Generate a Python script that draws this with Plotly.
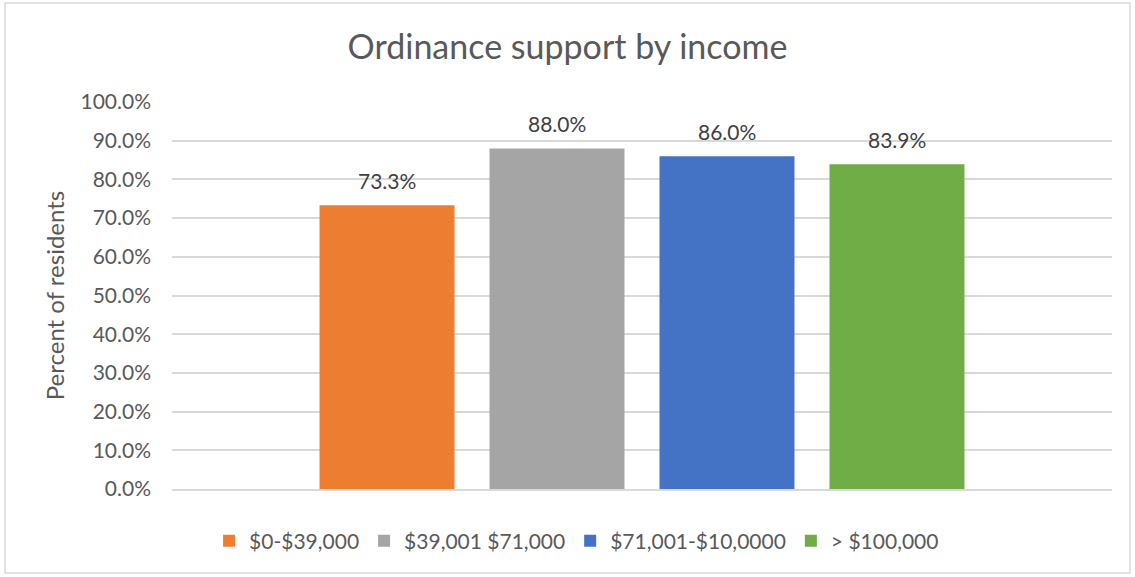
import plotly.graph_objects as go

# Share of residents supporting the ordinance, by household income band
income_groups = ["$0-$39,000", "$39,001 $71,000", "$71,001-$10,0000", "> $100,000"]
support_share = [0.733, 0.880, 0.860, 0.839]
bar_colors = ["#ED7D31", "#A5A5A5", "#4472C4", "#70AD47"]

y_ticks = [i / 10 for i in range(11)]

FONT = "Lato"
TEXT = "#595959"
GRID = "#D9D9D9"

fig = go.Figure()
for name, val, col in zip(income_groups, support_share, bar_colors):
    fig.add_trace(go.Bar(
        x=[name], y=[val], name=name,
        marker=dict(color=col, line=dict(width=0)),
        hoverinfo="name+y",
    ))
    # value label above each bar
    fig.add_annotation(
        x=name, y=val, text=f"{val:.1%}", showarrow=False,
        yanchor="bottom", yshift=10,
        font=dict(family=FONT, size=21, color="#404040"),
    )

fig.update_layout(
    width=1135, height=577,
    margin=dict(l=172, r=23, t=102, b=88),
    paper_bgcolor="white", plot_bgcolor="white",
    barmode="overlay", bargap=0.206,
    title=dict(text="Ordinance support by income", x=0.5, xref="container",
               xanchor="center", y=1 - 47 / 577, yanchor="middle",
               font=dict(family=FONT, size=34, color=TEXT)),
    font=dict(family=FONT, size=21, color=TEXT),
    showlegend=True,
    legend=dict(orientation="h", xref="container", yref="container",
                x=0.508, xanchor="center", y=(577 - 541) / 577, yanchor="middle",
                font=dict(family=FONT, size=21, color=TEXT),
                traceorder="normal"),
)
fig.update_xaxes(type="category", range=[-1.265, 4.265],
                 showticklabels=False, showgrid=False, showline=True,
                 linecolor=GRID, linewidth=2, ticks="")
fig.update_yaxes(range=[0, 1], tickvals=y_ticks, tickformat=".1%",
                 showgrid=True, gridcolor=GRID, gridwidth=2,
                 zeroline=False, showline=False, ticks="", ticklabelstandoff=20,
                 tickfont=dict(family=FONT, size=21, color=TEXT),
                 title=dict(text="Percent of residents", standoff=9,
                            font=dict(family=FONT, size=24, color=TEXT)))

# thin frame around the whole chart
fig.add_shape(type="rect", xref="paper", yref="paper",
              x0=-167 / 940, x1=1 + 18 / 940, y0=-(577 - 489 - 4) / 387, y1=1 + 99 / 387,
              line=dict(color=GRID, width=1.5), fillcolor="rgba(0,0,0,0)", layer="below")

fig.write_html("out.html")
